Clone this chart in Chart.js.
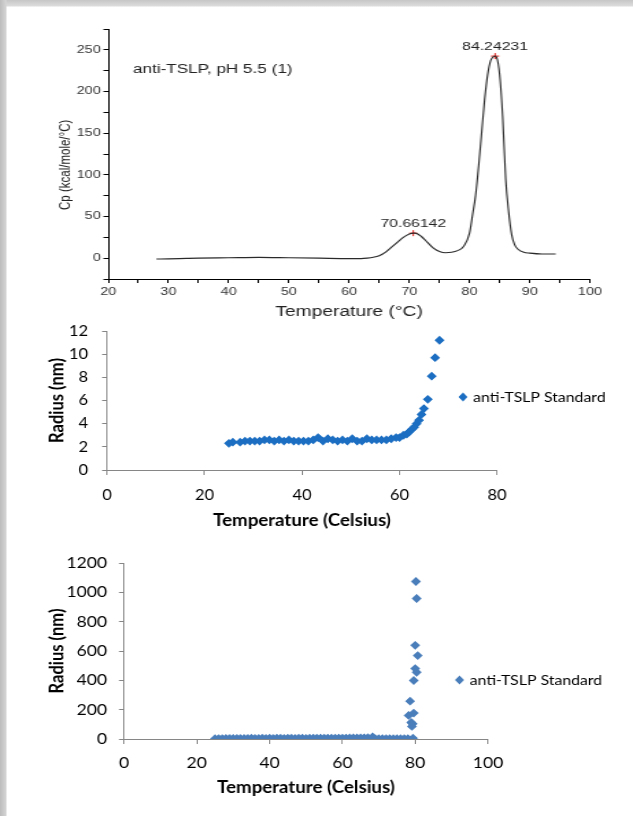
<!DOCTYPE html>
<html>
<head>
<meta charset="utf-8">
<script src="https://cdn.jsdelivr.net/npm/chart.js@4.4.1/dist/chart.umd.min.js"></script>
<style>
html, body { margin: 0; padding: 0; width: 633px; height: 816px; overflow: hidden; background: #fff; }
#frame {
    position: absolute; left: 0; top: 0; width: 633px; height: 816px;
    background:
        linear-gradient(to right, #bcbcbc 0, #d4d4d4 6px, rgba(255,255,255,0) 7px),
        linear-gradient(to bottom, #c6c6c6 0, #dcdcdc 6px, #fff 7px);
}
/* the source figure is stretched sideways, so the canvases are too */
canvas { position: absolute; left: 0; width: 633px; }
</style>
</head>
<body>
<div id="frame"></div>
<canvas id="dsc" width="462" height="325" style="top:0; height:325px"></canvas>
<canvas id="dls1" width="560" height="235" style="top:305px; height:235px"></canvas>
<canvas id="dls2" width="560" height="276" style="top:540px; height:276px"></canvas>

<script>
// --- DSC thermogram (top) ---
var dscTemp = [28, 30, 33, 35, 40, 45, 50, 55, 60, 62, 63, 64, 65, 66, 67, 68, 69, 70, 70.66, 71, 72, 73, 74, 75, 76, 77, 78, 79, 80,
               80.5, 81, 81.5, 82, 82.5, 83, 83.5, 84, 84.24, 84.5, 85, 85.5, 86, 86.5, 87, 87.5, 88, 89, 90, 92, 94.3];
var dscCp   = [-1, -0.8, -0.3, 0, 0.5, 1, 0.5, 0, -0.5, -0.5, 0, 1, 3, 7, 13, 19, 25, 29, 30, 30, 26, 19, 12, 8, 6.5, 7, 9, 14, 30,
               52, 75, 110, 150, 190, 220, 237, 242, 242.5, 241, 220, 170, 95, 55, 28, 16, 11, 7, 6, 5, 5];
var peakTemp = [70.66142, 84.24231];
var peakCp = [30, 242.5];
var peakLabels = ['70.66142', '84.24231'];
var sampleNote = 'anti-TSLP, pH 5.5 (1)';
var yTitleDsc = 'Cp (kcal/mole/°C)';

// --- DLS run 1 (middle) ---
var run1Temp = [25.0, 25.8, 27.3, 28.3, 29.3, 30.3, 31.3, 32.3, 33.3, 34.3, 35.3, 36.3, 37.3, 38.3, 39.3, 40.3, 41.3, 42.3,
                43.3, 44.3, 45.3, 46.3, 47.3, 48.3, 49.3, 50.3, 51.3, 52.3, 53.3, 54.3, 55.3, 56.3, 57.3, 58.3, 59.3, 60.0,
                60.8, 61.5, 62.0, 62.5, 63.0, 63.5, 64.0, 64.5, 65.0, 65.8, 66.6, 67.3, 68.2];
var run1Radius = [2.3, 2.4, 2.4, 2.5, 2.5, 2.5, 2.5, 2.6, 2.6, 2.5, 2.6, 2.5, 2.6, 2.5, 2.5, 2.5, 2.5, 2.6,
                  2.8, 2.5, 2.7, 2.6, 2.5, 2.6, 2.5, 2.7, 2.5, 2.5, 2.7, 2.6, 2.6, 2.6, 2.6, 2.7, 2.8, 2.8,
                  3.0, 3.1, 3.3, 3.5, 3.7, 4.0, 4.3, 4.8, 5.3, 6.1, 8.1, 9.7, 11.2];

// --- DLS run 2 (bottom) ---
var run2Temp = [25, 26, 27, 28, 29, 30, 31, 32, 33, 34, 35, 36, 37, 38, 39, 40, 41, 42, 43, 44, 45, 46, 47, 48, 49, 50,
                51, 52, 53, 54, 55, 56, 57, 58, 59, 60, 61, 62, 63, 64, 65, 66, 67, 68.3, 69, 70, 71, 72, 73, 74, 75, 76,
                77, 78, 78.2, 78.6, 78.9, 79.1, 79.3, 79.4, 79.6, 79.6, 80.0, 80.0, 80.2, 80.4, 80.4, 80.7];
var run2Radius = [2, 3, 3, 4, 4, 4, 4, 4, 4, 4, 5, 4, 4, 5, 4, 5, 4, 5, 5, 4, 5, 5, 4, 5, 5, 4,
                  5, 5, 5, 5, 5, 6, 5, 5, 6, 6, 6, 7, 7, 7, 8, 8, 9, 15, 3, 2, 2, 2, 2, 2, 2, 2,
                  2, 3, 161, 258, 113, 86, 104, 5, 399, 177, 480, 639, 1074, 455, 958, 569];

var legendLabel = 'anti-TSLP Standard';
var xTitleDls = 'Temperature (Celsius)';
var yTitleDls = 'Radius (nm)';

Chart.defaults.animation = false;
Chart.defaults.color = '#000';

var arial = '"Liberation Sans", Arial, sans-serif';

function fixedWidth(w) { return function(scale) { scale.width = w; }; }
function fixedHeight(h) { return function(scale) { scale.height = h; }; }

var dscText = {
    id: 'dscText',
    afterDraw: function(chart) {
        var ctx = chart.ctx, x = chart.scales.x, y = chart.scales.y;
        ctx.save();
        ctx.fillStyle = '#222';
        ctx.font = '12.5px ' + arial;
        ctx.textAlign = 'left';
        ctx.textBaseline = 'middle';
        ctx.fillText(sampleNote, 97, 70);
        ctx.font = '11.5px ' + arial;
        ctx.textAlign = 'center';
        ctx.textBaseline = 'alphabetic';
        for (var i = 0; i < peakTemp.length; i++) {
            ctx.fillText(peakLabels[i], x.getPixelForValue(peakTemp[i]), y.getPixelForValue(peakCp[i]) - 6);
        }
        // y-axis title sits a little below the middle of the axis in the source
        ctx.font = '11.5px ' + arial;
        ctx.textBaseline = 'middle';
        ctx.translate(48, y.getPixelForValue(112));
        ctx.rotate(-Math.PI / 2);
        ctx.fillText(yTitleDsc, 0, 0);
        ctx.restore();
    }
};

var dscPts = [];
for (var i = 0; i < dscTemp.length; i++) dscPts.push({x: dscTemp[i], y: dscCp[i]});
var peakPts = [];
for (var i = 0; i < peakTemp.length; i++) peakPts.push({x: peakTemp[i], y: peakCp[i]});

new Chart(document.getElementById('dsc'), {
    type: 'scatter',
    data: {
        datasets: [{
            data: dscPts,
            showLine: true,
            borderColor: '#2a2a2a',
            borderWidth: 1.1,
            pointRadius: 0,
            cubicInterpolationMode: 'monotone'
        }, {
            data: peakPts,
            pointStyle: 'cross',
            pointRadius: 3,
            borderColor: '#e0201c',
            borderWidth: 1
        }]
    },
    options: {
        responsive: false,
        layout: { padding: { top: 29, right: 31.4, left: 0, bottom: 0 } },
        plugins: { legend: { display: false }, tooltip: { enabled: false } },
        scales: {
            x: {
                type: 'linear', min: 20, max: 100,
                afterFit: fixedHeight(46),
                border: { color: '#000', width: 1 },
                grid: { drawOnChartArea: false, color: '#000', tickLength: 4 },
                ticks: {
                    stepSize: 5, padding: 3, color: '#333', maxRotation: 0, autoSkip: false,
                    font: { family: arial, size: 10.5 },
                    callback: function(v) { return v % 10 === 0 ? v : ''; }
                },
                title: {
                    display: true, text: 'Temperature (°C)', color: '#222',
                    font: { family: arial, size: 14 },
                    padding: { bottom: 4, top: 0 }
                }
            },
            y: {
                type: 'linear', min: -25, max: 275,
                afterFit: fixedWidth(79),
                border: { color: '#000', width: 1 },
                grid: { drawOnChartArea: false, color: '#000', tickLength: 3.5 },
                ticks: {
                    stepSize: 25, padding: 2, color: '#333', autoSkip: false,
                    font: { family: arial, size: 10.5 },
                    callback: function(v) { return (v % 50 === 0 && v >= 0 && v <= 250) ? v : ''; }
                },
                title: { display: false }
            }
        }
    },
    plugins: [dscText]
});

function excelLegend(color, lx, ly) {
    return {
        id: 'xlLegend',
        afterDraw: function(chart) {
            var ctx = chart.ctx;
            ctx.save();
            ctx.fillStyle = color;
            ctx.beginPath();
            ctx.moveTo(lx, ly - 4.5);
            ctx.lineTo(lx + 4, ly);
            ctx.lineTo(lx, ly + 4.5);
            ctx.lineTo(lx - 4, ly);
            ctx.closePath();
            ctx.fill();
            ctx.fillStyle = '#000';
            ctx.font = '14px Lato, sans-serif';
            ctx.textAlign = 'left';
            ctx.textBaseline = 'middle';
            ctx.fillText(legendLabel, lx + 9, ly);
            ctx.restore();
        }
    };
}

function dlsChart(id, temps, radii, color, cfg) {
    var pts = [];
    for (var i = 0; i < temps.length; i++) pts.push({x: temps[i], y: radii[i]});
    return new Chart(document.getElementById(id), {
        type: 'scatter',
        data: {
            datasets: [{
                data: pts,
                pointStyle: 'rectRot',
                pointRadius: 4.4,
                backgroundColor: color,
                borderColor: color,
                borderWidth: 0
            }]
        },
        options: {
            responsive: false,
            layout: { padding: cfg.padding },
            plugins: { legend: { display: false }, tooltip: { enabled: false } },
            scales: {
                x: {
                    type: 'linear', min: 0, max: cfg.xMax,
                    afterFit: fixedHeight(cfg.xHeight),
                    border: { color: '#868686', width: 1 },
                    grid: { drawOnChartArea: false, color: '#868686', tickLength: 5 },
                    ticks: {
                        stepSize: 20, padding: cfg.xTickPad, maxRotation: 0,
                        font: { family: 'Lato, sans-serif', size: cfg.tickSize }
                    },
                    title: {
                        display: true, text: xTitleDls,
                        font: { family: 'Lato, sans-serif', size: 16.5, weight: 'bold' },
                        padding: { bottom: cfg.xTitlePad, top: 0 }
                    }
                },
                y: {
                    type: 'linear', min: 0, max: cfg.yMax,
                    afterFit: fixedWidth(cfg.yWidth),
                    border: { color: '#868686', width: 1 },
                    grid: { drawOnChartArea: false, color: '#868686', tickLength: 4.4 },
                    ticks: {
                        stepSize: cfg.yStep, padding: cfg.yTickPad,
                        font: { family: 'Lato, sans-serif', size: cfg.tickSize },
                        callback: function(v) { return String(v); }
                    },
                    title: {
                        display: true, text: yTitleDls,
                        font: { family: 'Lato, sans-serif', size: 16.5, weight: 'bold' },
                        padding: { top: 40.5, bottom: 0 }
                    }
                }
            }
        },
        plugins: [excelLegend(color, cfg.legendX, cfg.legendY)]
    });
}

dlsChart('dls1', run1Temp, run1Radius, '#1c6ec2', {
    padding: { top: 26, right: 120.3, left: 0, bottom: 0 },
    xMax: 80, yMax: 12, yStep: 2,
    xHeight: 70, yWidth: 94.7,
    xTickPad: 12, yTickPad: 12.5, xTitlePad: 9, tickSize: 14.5,
    legendX: 409.6, legendY: 92
});

dlsChart('dls2', run2Temp, run2Radius, '#4a7ebb', {
    padding: { top: 23, right: 128.3, left: 0, bottom: 0 },
    xMax: 100, yMax: 1200, yStep: 200,
    xHeight: 77, yWidth: 109.7,
    xTickPad: 10, yTickPad: 10.6, xTitlePad: 18, tickSize: 15.5,
    legendX: 406.5, legendY: 140
});
</script>
</body>
</html>
